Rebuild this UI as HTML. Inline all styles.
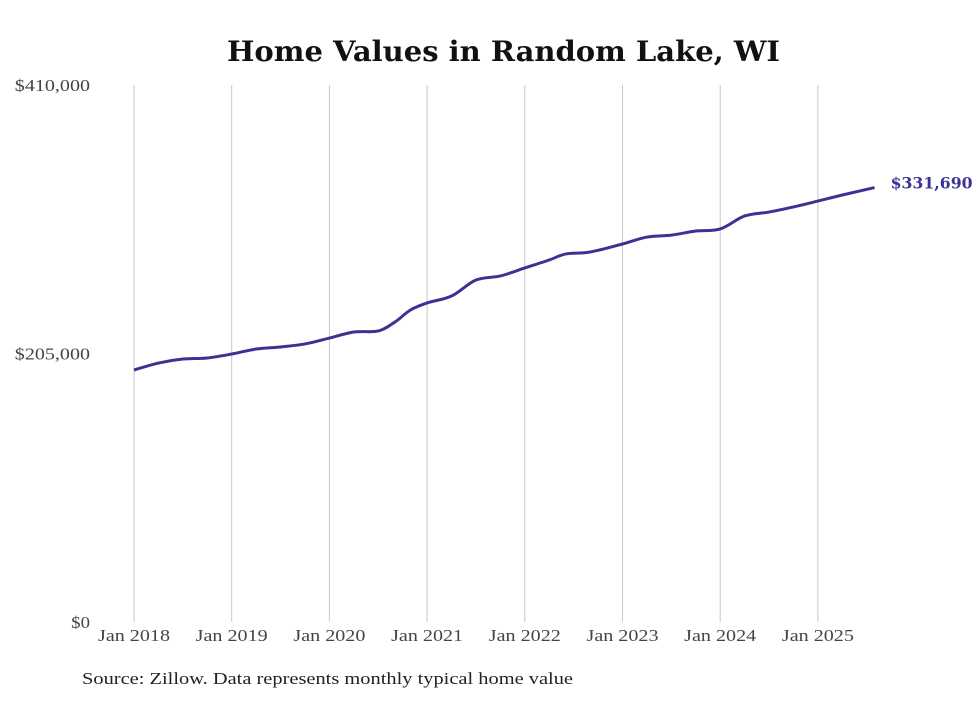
<!DOCTYPE html>
<html><head><meta charset="utf-8"><style>
body{margin:0;background:#fff;}
svg text{font-family:"DejaVu Serif","Liberation Serif",serif;}
</style></head><body>
<svg id="chart" width="980" height="699">
<text x="227" y="61" textLength="553" lengthAdjust="spacingAndGlyphs" font-size="28" font-weight="bold" fill="#111">Home Values in Random Lake, WI</text>
<g id="grid"></g><g id="ylabels"></g><g id="xlabels"></g>
<path id="line" fill="none" stroke="#3a3393" stroke-width="3"/>
<text id="endlabel" font-size="16" font-weight="bold" fill="#3a3393"></text>
<text x="82" y="684" textLength="491" lengthAdjust="spacingAndGlyphs" fill="#222" style="font-family:'Liberation Serif',serif;font-size:17px">Source: Zillow. Data represents monthly typical home value</text>
</svg>
<script>
const dates=[2018,2018.25,2018.5,2018.75,2019,2019.25,2019.5,2019.75,2020,2020.25,2020.5,2020.67,2020.83,2021,2021.25,2021.5,2021.75,2022,2022.25,2022.42,2022.67,2023,2023.25,2023.5,2023.75,2024,2024.25,2024.5,2024.75,2025,2025.25,2025.58];
const values=[192400,197700,200800,201600,204600,208400,210000,212300,216800,221400,222200,229000,238200,243600,248900,261100,264200,270300,276400,281000,282500,288600,293900,295400,298500,300100,310000,313000,316900,321400,326000,331690];
const yTicks=[0,205000,410000];
const yTickLabels=["$0","$205,000","$410,000"];
const xTicks=[2018,2019,2020,2021,2022,2023,2024,2025];
const xTickLabels=["Jan 2018","Jan 2019","Jan 2020","Jan 2021","Jan 2022","Jan 2023","Jan 2024","Jan 2025"];
const endLabel="$331,690";
const X=d=>134+(d-2018)*97.7;
const Y=v=>622-v/410000*537;
const NS="http://www.w3.org/2000/svg";
const mk=(t,a,p)=>{const e=document.createElementNS(NS,t);for(const k in a)e.setAttribute(k,a[k]);document.getElementById(p).appendChild(e);return e;};
xTicks.forEach((d,i)=>{
 const l=mk('line',{x1:X(d),x2:X(d),y1:85,y2:622,stroke:'#c8c8c8','stroke-width':1},'grid');
 
 
 const t=mk('text',{x:X(d)-36,y:641,textLength:72,lengthAdjust:'spacingAndGlyphs',fill:'#444',style:"font-family:'Liberation Serif',serif;font-size:17px"},'xlabels');
 t.textContent=xTickLabels[i];
 
 
});
yTicks.forEach((v,i)=>{
 const w=yTickLabels[i].length*9.4;
 const t=mk('text',{x:90-w,y:Y(v)+6,textLength:w,lengthAdjust:'spacingAndGlyphs',fill:'#444',style:"font-family:'Liberation Serif',serif;font-size:17px"},'ylabels');
 t.textContent=yTickLabels[i];
 
 
});
const pts=dates.map((d,i)=>[X(d),Y(values[i])]);
let p='M'+pts[0][0]+','+pts[0][1];
for(let i=0;i<pts.length-1;i++){
 const p0=pts[Math.max(0,i-1)],p1=pts[i],p2=pts[i+1],p3=pts[Math.min(pts.length-1,i+2)];
 const c1=[p1[0]+(p2[0]-p0[0])/6,p1[1]+(p2[1]-p0[1])/6],c2=[p2[0]-(p3[0]-p1[0])/6,p2[1]-(p3[1]-p1[1])/6];
 p+=`C${c1[0]},${c1[1]} ${c2[0]},${c2[1]} ${p2[0]},${p2[1]}`;
}
document.getElementById('line').setAttribute('d',p);
const el=document.getElementById('endlabel');
const last=pts[pts.length-1];
el.setAttribute('x',last[0]+16);el.setAttribute('y',last[1]+1);
el.setAttribute('textLength',82);
el.setAttribute('lengthAdjust','spacingAndGlyphs');
el.textContent=endLabel;
</script>
</body></html>
